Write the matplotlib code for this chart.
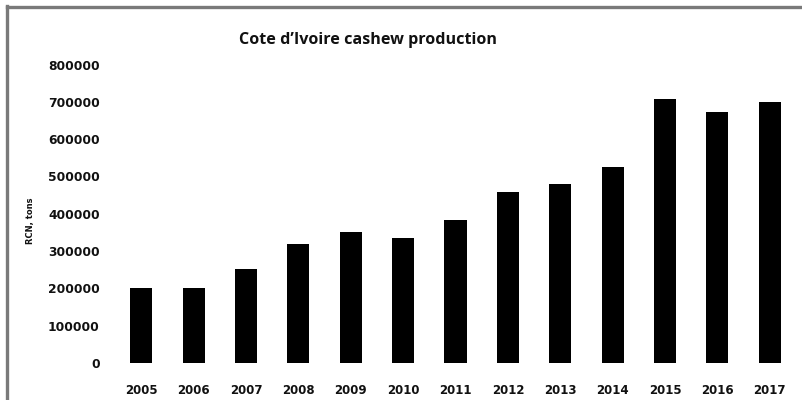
import matplotlib
matplotlib.use("Agg")
import matplotlib.pyplot as plt
from matplotlib.lines import Line2D

years = ["2005", "2006", "2007", "2008", "2009", "2010", "2011",
         "2012", "2013", "2014", "2015", "2016", "2017"]
production = [200000, 200000, 251000, 320000, 350000, 334000, 383000,
              458000, 479000, 525000, 708000, 674000, 700000]
yticks = [0, 100000, 200000, 300000, 400000, 500000, 600000, 700000, 800000]

fig = plt.figure(figsize=(8.03, 4.0), dpi=100)
ax = fig.add_axes([115/803, 37/400, 681/803, 298.4/400])

x = list(range(len(years)))
ax.bar(x, production, width=0.42, color="black")
ax.set_xlim(-0.5, len(years) - 0.5)
ax.set_ylim(0, 800000)
ax.set_yticks(yticks)
ax.set_yticklabels([str(v) for v in yticks])
ax.set_xticks(x)
ax.set_xticklabels(years)

for s in ax.spines.values():
    s.set_visible(False)
ax.tick_params(axis="both", length=0)
ax.tick_params(axis="y", pad=11)
ax.tick_params(axis="x", pad=15)
for lab in ax.get_yticklabels():
    lab.set_fontfamily("DejaVu Sans")
    lab.set_fontweight("bold")
    lab.set_fontsize(8.8)
    lab.set_color("#111111")
for lab in ax.get_xticklabels():
    lab.set_fontfamily("DejaVu Sans")
    lab.set_fontweight("bold")
    lab.set_fontsize(8.5)
    lab.set_color("#111111")

fig.text(31/803, 1 - 221/400, "RCN, tons", rotation=90, ha="center", va="center",
         fontsize=6, fontweight="bold", family="DejaVu Sans", color="#111111")
fig.text(368/803, 1 - 40/400, "Cote d\u2019Ivoire cashew production", ha="center", va="center",
         fontsize=11.6, fontweight="bold", family="Open Sans", color="#111111")

# gray frame (top and left)
fig.add_artist(Line2D([7/803, 1.0], [1 - 6.5/400, 1 - 6.5/400], transform=fig.transFigure,
                      color="#7a7a7a", linewidth=2.4))
fig.add_artist(Line2D([7.5/803, 7.5/803], [0, 1 - 5.5/400], transform=fig.transFigure,
                      color="#7a7a7a", linewidth=2.4))

fig.savefig("out.png", dpi=100)
